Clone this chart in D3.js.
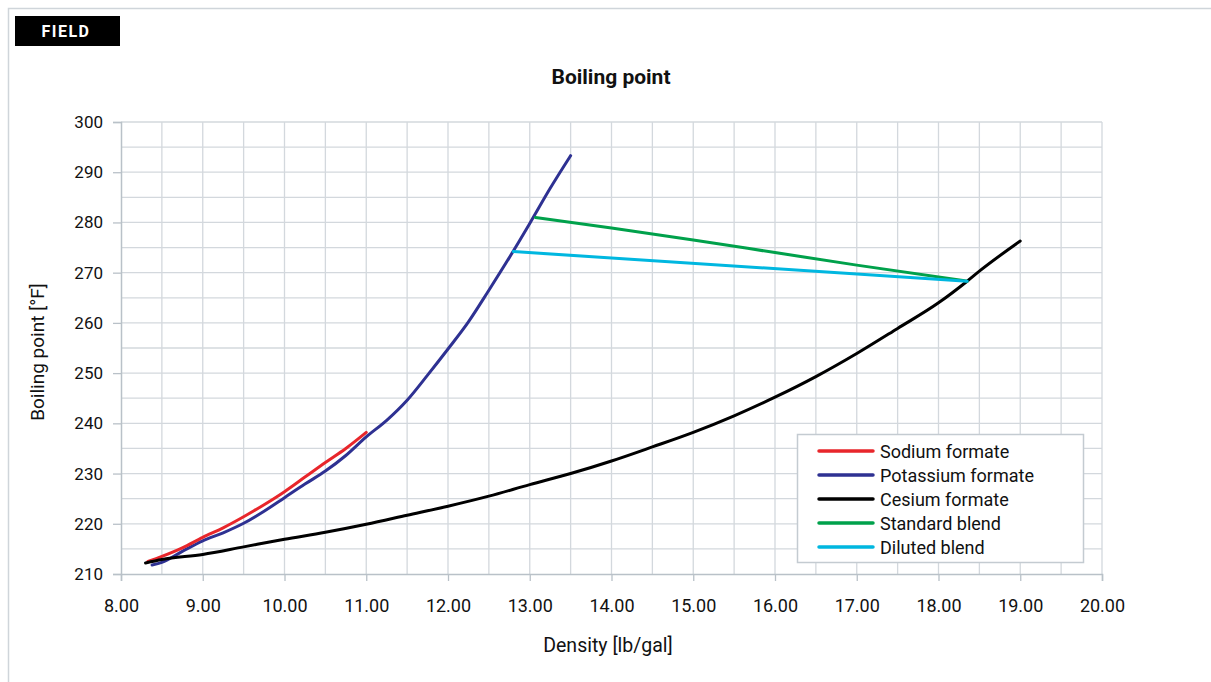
<!DOCTYPE html>
<html>
<head>
<meta charset="utf-8">
<script src="https://cdn.jsdelivr.net/npm/d3@7"></script>
<style>
  body { margin: 0; background: #fff; font-family: Roboto, "Noto Sans", sans-serif; }
</style>
</head>
<body>
<svg id="chart" width="1211" height="682"></svg>
<script>
// values
const sodiumX = [8.33, 8.5, 8.75, 9.0, 9.25, 9.5, 9.75, 10.0, 10.25, 10.5, 10.75, 11.0];
const sodiumY = [212.5, 213.5, 215.2, 217.3, 219.2, 221.4, 223.8, 226.4, 229.3, 232.2, 235.0, 238.2];

const potassiumX = [8.38, 8.5, 8.75, 9.0, 9.25, 9.5, 9.75, 10.0, 10.25, 10.5, 10.75, 11.0, 11.25, 11.5, 11.75, 12.0, 12.25, 12.5, 12.75, 13.0, 13.25, 13.5];
const potassiumY = [211.8, 212.3, 214.5, 216.6, 218.2, 220.1, 222.5, 225.2, 227.9, 230.5, 233.6, 237.3, 240.6, 244.6, 249.6, 254.8, 260.2, 266.5, 273.0, 279.8, 286.8, 293.3];

const cesiumX = [8.3, 8.5, 9.0, 9.5, 10.0, 10.5, 11.0, 11.5, 12.0, 12.5, 13.0, 13.5, 14.0, 14.5, 15.0, 15.5, 16.0, 16.5, 17.0, 17.5, 18.0, 18.35, 18.5, 19.0];
const cesiumY = [212.2, 212.9, 213.9, 215.4, 216.9, 218.3, 219.9, 221.7, 223.5, 225.5, 227.8, 230.0, 232.5, 235.3, 238.2, 241.5, 245.2, 249.3, 253.9, 258.9, 264.0, 268.3, 270.3, 276.3];

const standardX = [13.07, 14.0, 15.0, 16.0, 17.0, 18.35];
const standardY = [281.0, 278.9, 276.5, 274.0, 271.5, 268.3];

const dilutedX = [12.8, 18.35];
const dilutedY = [274.2, 268.3];

const seriesNames = ["Sodium formate", "Potassium formate", "Cesium formate", "Standard blend", "Diluted blend"];
const seriesColors = ["#e8262b", "#2e3192", "#000000", "#00a14b", "#00b7e0"];

const xTicks = d3.range(8, 20.01, 1);
const yTicks = d3.range(210, 300.1, 10);

const svg = d3.select("#chart");
const width = +svg.attr("width");
const height = +svg.attr("height");

const plot = { left: 121, right: 1102, top: 122, bottom: 574 };

const x = d3.scaleLinear().domain([8, 20]).range([plot.left, plot.right]);
const y = d3.scaleLinear().domain([210, 300]).range([plot.bottom, plot.top]);

const gridColor = "#d3d8dd";

// frame
svg.append("path")
    .attr("d", `M8.5,${height} V8.5 H${width}`)
    .attr("fill", "none")
    .attr("stroke", "#cfd5da")
    .attr("stroke-width", 1.5);

// FIELD badge
svg.append("rect")
    .attr("x", 15).attr("y", 16)
    .attr("width", 105).attr("height", 30)
    .attr("fill", "#000");
svg.append("text")
    .attr("x", 66).attr("y", 37)
    .attr("text-anchor", "middle")
    .attr("fill", "#fff")
    .attr("font-size", 16)
    .attr("font-weight", 700)
    .attr("letter-spacing", 1.5)
    .text("FIELD");

// title
svg.append("text")
    .attr("x", 611).attr("y", 84)
    .attr("text-anchor", "middle")
    .attr("font-size", 21)
    .attr("font-weight", 700)
    .attr("fill", "#111")
    .text("Boiling point");

// grid
const grid = svg.append("g").attr("class", "grid");
grid.selectAll("line.vx")
    .data(d3.range(8.5, 20.01, 0.5))
    .join("line")
    .attr("x1", d => x(d)).attr("x2", d => x(d))
    .attr("y1", plot.top).attr("y2", plot.bottom)
    .attr("stroke", gridColor)
    .attr("stroke-width", 1.3);
grid.selectAll("line.hy")
    .data(d3.range(215, 300.1, 5))
    .join("line")
    .attr("x1", plot.left).attr("x2", plot.right)
    .attr("y1", d => y(d)).attr("y2", d => y(d))
    .attr("stroke", gridColor)
    .attr("stroke-width", 1.3);

// axes
const xAxis = svg.append("g")
    .attr("transform", `translate(0,${plot.bottom})`)
    .call(d3.axisBottom(x).tickValues(xTicks).tickFormat(d3.format(".2f")).tickSize(7).tickPadding(18));
const yAxis = svg.append("g")
    .attr("transform", `translate(${plot.left},0)`)
    .call(d3.axisLeft(y).tickValues(yTicks).tickSize(8).tickPadding(10));

[xAxis, yAxis].forEach(ax => {
    ax.select(".domain").attr("stroke", "#b9c1c8").attr("stroke-width", 1.5);
    ax.selectAll(".tick line").attr("stroke", "#b9c1c8").attr("stroke-width", 1.3);
    ax.selectAll(".tick text")
        .attr("fill", "#111")
        .attr("font-family", "Roboto, 'Noto Sans', sans-serif");
});
xAxis.selectAll(".tick text").attr("font-size", 18);
yAxis.selectAll(".tick text").attr("font-size", 17);

// axis labels
svg.append("text")
    .attr("x", 608).attr("y", 652)
    .attr("text-anchor", "middle")
    .attr("font-size", 19.5)
    .attr("fill", "#111")
    .text("Density [lb/gal]");
svg.append("text")
    .attr("transform", "translate(44,352) rotate(-90)")
    .attr("text-anchor", "middle")
    .attr("font-size", 19)
    .attr("fill", "#111")
    .text("Boiling point [°F]");

// series
const seriesData = [
    d3.zip(sodiumX, sodiumY),
    d3.zip(potassiumX, potassiumY),
    d3.zip(cesiumX, cesiumY),
    d3.zip(standardX, standardY),
    d3.zip(dilutedX, dilutedY)
];

const line = d3.line()
    .x(d => x(d[0]))
    .y(d => y(d[1]))
    .curve(d3.curveMonotoneX);

// draw order: blue, red on top of it, black, blends
const order = [1, 0, 2, 3, 4];
svg.append("g")
    .selectAll("path")
    .data(order)
    .join("path")
    .attr("d", i => line(seriesData[i]))
    .attr("fill", "none")
    .attr("stroke", i => seriesColors[i])
    .attr("stroke-width", 3)
    .attr("stroke-linejoin", "round")
    .attr("stroke-linecap", "round");

// legend
const legend = svg.append("g").attr("transform", "translate(797,434)");
legend.append("rect")
    .attr("x", 0.5).attr("y", 0.5)
    .attr("width", 286).attr("height", 128)
    .attr("fill", "#fff")
    .attr("stroke", "#c4cbd1")
    .attr("stroke-width", 1.5);
const items = legend.selectAll("g.item")
    .data(seriesNames)
    .join("g")
    .attr("transform", (d, i) => `translate(0,${17 + i * 24})`);
items.append("line")
    .attr("x1", 22).attr("x2", 76)
    .attr("stroke", (d, i) => seriesColors[i])
    .attr("stroke-width", 3.5)
    .attr("stroke-linecap", "round");
items.append("text")
    .attr("x", 83).attr("y", 6.5)
    .attr("font-size", 18)
    .attr("fill", "#111")
    .text(d => d);
</script>
</body>
</html>
